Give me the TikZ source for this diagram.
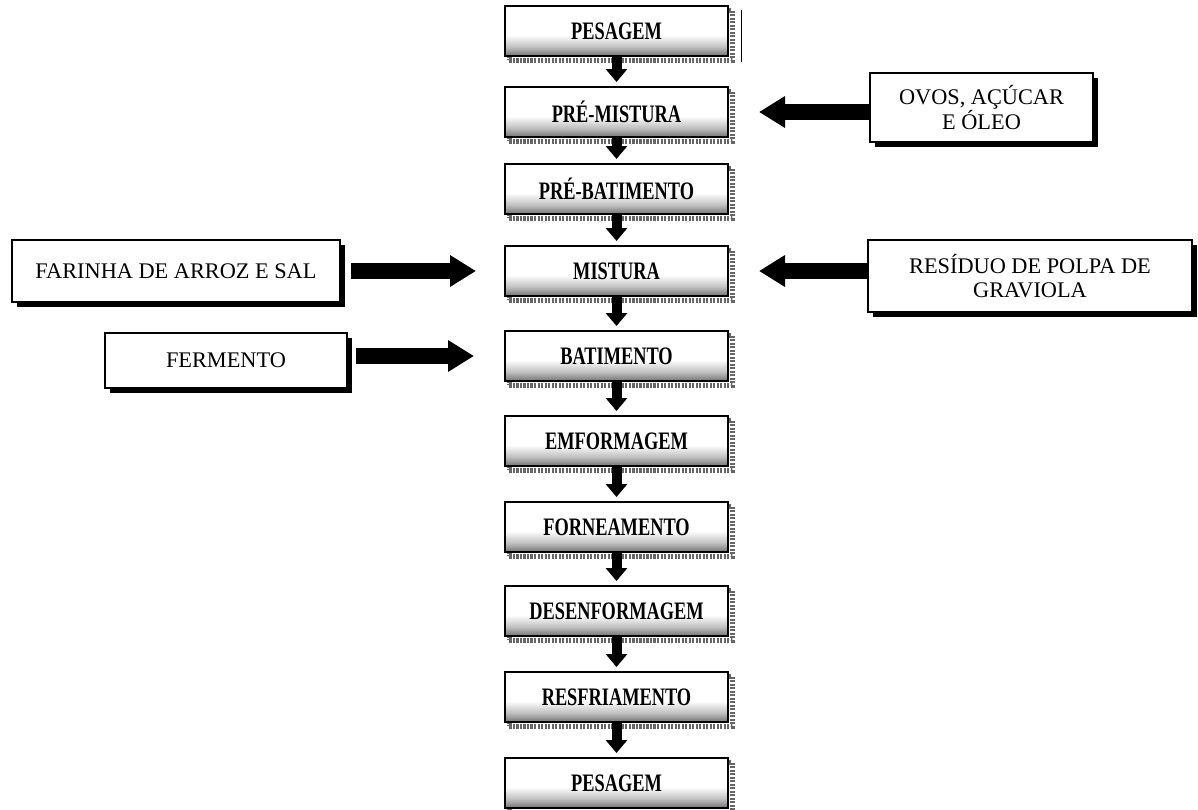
\documentclass[tikz,border=0pt]{standalone}
\usepackage{fontspec}
\setmainfont{Liberation Serif}
\newfontfamily\etapafont[FakeStretch=0.73]{Liberation Serif}
\usetikzlibrary{arrows.meta,positioning,shadows}

% fundo das etapas: branco em cima, cinza na borda de baixo
\pgfdeclareverticalshading{etapafundo}{100bp}{color(0bp)=(black!55); color(25bp)=(black!55); color(34bp)=(black!25); color(46bp)=(white); color(100bp)=(white)}

\begin{document}
\begin{tikzpicture}[
        >=Triangle,
        % etapas do processo (coluna central)
        etapa/.style={draw=black, line width=1.6pt, shading=etapafundo, outer sep=0pt,
            minimum width=4.46cm, minimum height=1.0cm, inner sep=2pt,
            font=\etapafont\bfseries\fontsize{14.3}{16}\selectfont,
            general shadow={shadow xshift=2.5pt, shadow yshift=-2.5pt, draw=black!60, dash pattern=on 1.2pt off 0.8pt, line width=2.4pt}},
        % ingredientes adicionados
        insumo/.style={draw=black, line width=1.5pt, fill=white, align=center,
            font=\fontsize{12.7}{14}\selectfont,
            drop shadow={shadow xshift=2.8pt, shadow yshift=-2.8pt, fill=black, opacity=1}},
        % setas
        fluxo/.style={-{Triangle[width=0.42cm,length=0.26cm]}, line width=0.2cm, draw=black},
        entrada/.style={-{Triangle[width=0.6cm,length=0.52cm]}, line width=0.32cm, draw=black}
    ]

    \useasboundingbox (0,0) rectangle (23.96,-16.18);

    % coluna central
    \node[etapa] (pes1) at (12.33,-0.62) {PESAGEM};
    \node[etapa, below=0.62cm of pes1] (premist) {PRÉ-MISTURA};
    \node[etapa, below=0.54cm of premist] (prebat) {PRÉ-BATIMENTO};
    \node[etapa, below=0.64cm of prebat] (mist) {MISTURA};
    \node[etapa, below=0.70cm of mist] (batim) {BATIMENTO};
    \node[etapa, below=0.70cm of batim] (emform) {EMFORMAGEM};
    \node[etapa, below=0.72cm of emform] (forn) {FORNEAMENTO};
    \node[etapa, below=0.68cm of forn] (desenf) {DESENFORMAGEM};
    \node[etapa, below=0.72cm of desenf] (resfr) {RESFRIAMENTO};
    \node[etapa, below=0.72cm of resfr] (pes2) {PESAGEM};

    \draw[line width=0.9pt] ([xshift=0.27cm,yshift=-0.08cm]pes1.north east) -- ([xshift=0.27cm,yshift=-0.12cm]pes1.south east);

    % insumos
    \node[insumo, minimum width=4.46cm, minimum height=1.38cm] (ovos) at (19.63,-2.15) {OVOS, AÇÚCAR\\E ÓLEO};
    \node[insumo, minimum width=6.56cm, minimum height=1.24cm] (farinha) at (3.52,-5.42) {FARINHA DE ARROZ E SAL};
    \node[insumo, minimum width=6.48cm, minimum height=1.44cm] (resid) at (20.6,-5.52) {RESÍDUO DE POLPA DE\\GRAVIOLA};
    \node[insumo, minimum width=4.84cm, minimum height=1.1cm] (ferm) at (4.52,-7.21) {FERMENTO};

    % setas entre etapas
    \foreach \a/\b in {pes1/premist, premist/prebat, prebat/mist, mist/batim, batim/emform,
                       emform/forn, forn/desenf, desenf/resfr, resfr/pes2}
        \draw[fluxo, shorten >=0.1cm] (\a.south) -- (\b.north);

    % entradas
    \draw[entrada, shorten >=0.62cm] (ovos.west |- premist) -- (premist.east);
    \draw[entrada, shorten <=0.2cm, shorten >=0.58cm] (farinha.east |- mist) -- (mist.west);
    \draw[entrada, shorten >=0.62cm] (resid.west |- mist) -- (mist.east);
    \draw[entrada, shorten <=0.16cm, shorten >=0.62cm] (ferm.east |- batim) -- (batim.west);

\end{tikzpicture}
\end{document}
